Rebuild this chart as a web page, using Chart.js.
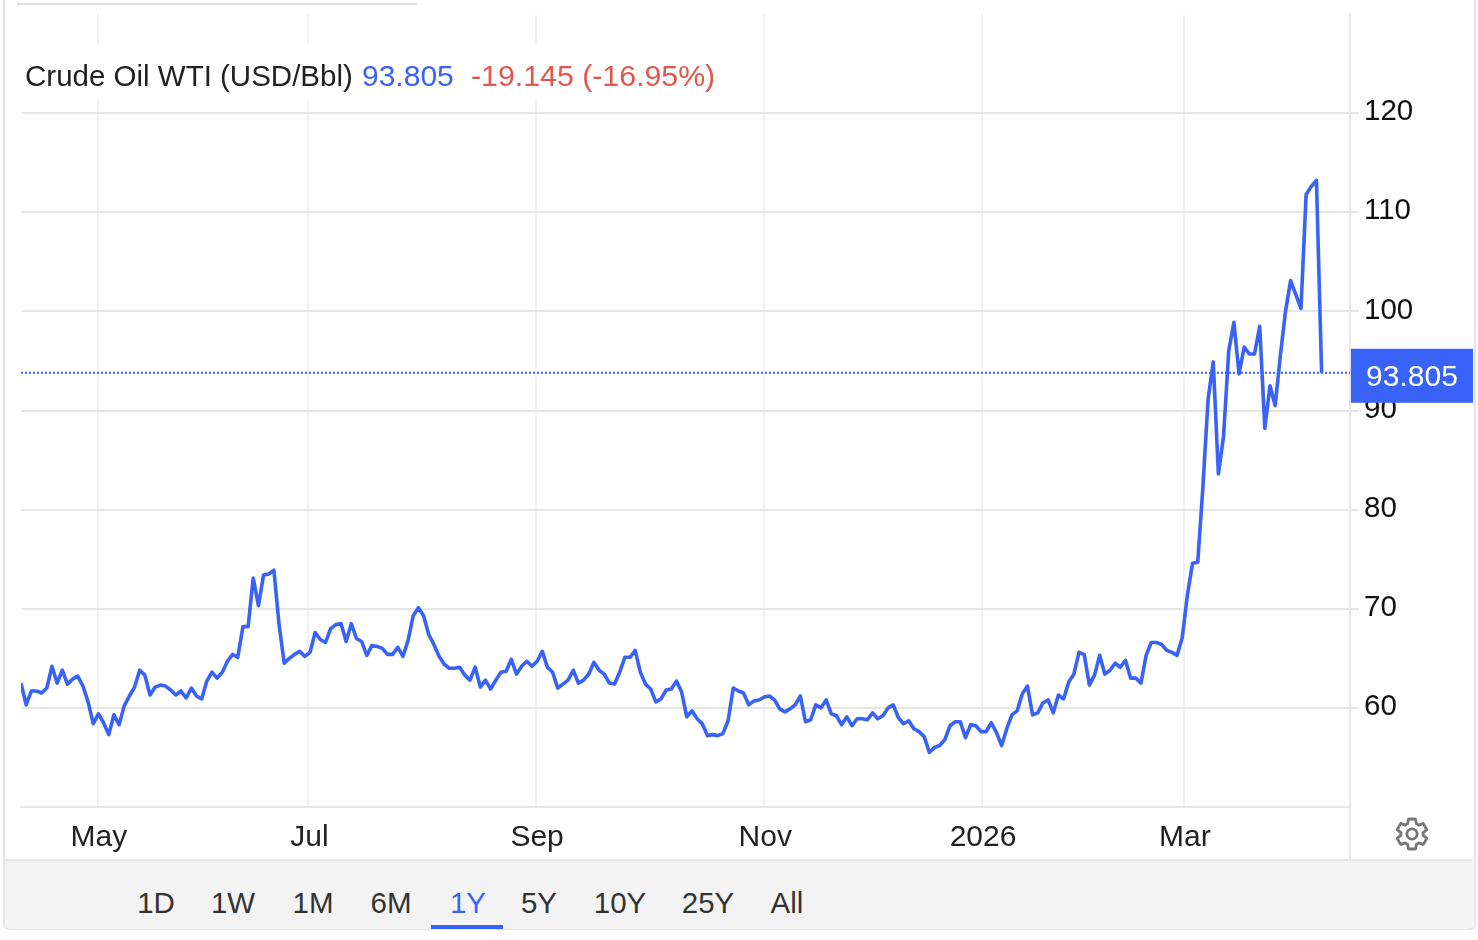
<!DOCTYPE html>
<html>
<head>
<meta charset="utf-8">
<title>Crude Oil WTI</title>
<script src="https://cdn.jsdelivr.net/npm/chart.js@4"></script>
<style>
    html, body { margin: 0; padding: 0; background: #fff; }
    body { width: 1478px; height: 940px; position: relative; overflow: hidden; font-family: "Liberation Sans", sans-serif; }
    #frame { position: absolute; left: 3px; top: 0; width: 1469px; height: 928px; border: 2px solid #e5e5e9; border-top: none; border-radius: 0 0 6px 6px; }
    #topline { position: absolute; left: 17px; top: 3px; width: 400px; height: 2px; background: #e0e0e0; }
    #lineChart { position: absolute; left: 0; top: 0; }
    #title { position: absolute; left: 24px; top: 44px; width: 696px; height: 55px; background: #fff; font-size: 29.5px; line-height: 63px; color: #222; white-space: pre; }
    #title span { position: absolute; top: 0; }
    #bar { position: absolute; left: 5px; top: 859px; width: 1468px; height: 70px; background: #f3f3f4; border-top: 2px solid #e5e5e9; box-sizing: border-box; border-radius: 0 0 5px 5px; }
    .range { position: absolute; top: 883px; font-size: 29.5px; line-height: 40px; color: #333; transform: translateX(-50%); }
    .range.active { color: #3862f8; }
    #underline { position: absolute; left: 431px; top: 925px; width: 72px; height: 4px; background: #3862f8; }
    #gear { position: absolute; left: 1394px; top: 816px; }
</style>
</head>
<body>
<div id="frame"></div>
<div id="topline"></div>
<div id="bar"></div>
<canvas id="lineChart" width="1478" height="860"></canvas>
<div id="title"><span style="left:1px">Crude Oil WTI (USD/Bbl)</span><span style="left:338px;color:#3862f8;font-size:30px">93.805</span><span style="left:447px;color:#e2574c;font-size:30.3px">-19.145 (-16.95%)</span></div>
<div id="underline"></div>
<svg id="gear" width="36" height="36" viewBox="0 0 24 24" fill="none" stroke="#777" stroke-width="1.9">
    <path d="M19.43 12.98c.04-.32.07-.64.07-.98 0-.34-.03-.66-.07-.98l2.11-1.65c.19-.15.24-.42.12-.64l-2-3.46c-.09-.16-.26-.25-.44-.25-.06 0-.12.01-.17.03l-2.49 1c-.52-.4-1.08-.73-1.69-.98l-.38-2.65C14.46 2.18 14.25 2 14 2h-4c-.25 0-.46.18-.49.42l-.38 2.65c-.61.25-1.17.59-1.69.98l-2.49-1c-.06-.02-.12-.03-.18-.03-.17 0-.34.09-.43.25l-2 3.46c-.13.22-.07.49.12.64l2.11 1.65c-.04.32-.07.65-.07.98 0 .33.03.66.07.98l-2.11 1.65c-.19.15-.24.42-.12.64l2 3.46c.09.16.26.25.44.25.06 0 .12-.01.17-.03l2.49-1c.52.4 1.08.73 1.69.98l.38 2.65c.03.24.24.42.49.42h4c.25 0 .46-.18.49-.42l.38-2.65c.61-.25 1.17-.59 1.69-.98l2.49 1c.06.02.12.03.18.03.17 0 .34-.09.43-.25l2-3.46c.12-.22.07-.49-.12-.64l-2.11-1.65z"/>
    <circle cx="12" cy="12" r="3.4"/>
</svg>
<script>
// daily closes, one value per session
const prices = [
    62.5, 60.3, 61.7, 61.7, 61.5, 62.0, 64.2, 62.5, 63.8, 62.4,
    62.9, 63.2, 62.2, 60.6, 58.4, 59.4, 58.5, 57.3, 59.3, 58.3,
    60.2, 61.2, 62.1, 63.8, 63.3, 61.3, 62.1, 62.3, 62.2, 61.8,
    61.3, 61.7, 61.0, 62.0, 61.2, 60.9, 62.7, 63.6, 63.0, 63.6,
    64.7, 65.4, 65.1, 68.2, 68.2, 73.1, 70.3, 73.4, 73.5, 73.9,
    68.4, 64.5, 65.0, 65.4, 65.7, 65.2, 65.6, 67.6, 66.9, 66.6,
    68.0, 68.4, 68.5, 66.7, 68.5, 67.0, 66.7, 65.3, 66.3, 66.2,
    66.0, 65.4, 65.4, 66.1, 65.2, 66.8, 69.3, 70.1, 69.3, 67.4,
    66.4, 65.2, 64.4, 64.0, 64.0, 64.1, 63.3, 62.8, 64.1, 62.1,
    62.8, 61.9, 62.8, 63.6, 63.7, 64.9, 63.4, 64.2, 64.7, 64.2,
    64.7, 65.7, 64.1, 63.6, 62.0, 62.4, 62.8, 63.8, 62.5, 62.8,
    63.4, 64.6, 63.8, 63.4, 62.5, 62.4, 63.6, 65.1, 65.1, 65.8,
    63.6, 62.4, 61.9, 60.6, 60.9, 61.8, 61.9, 62.7, 61.6, 59.1,
    59.7, 58.9, 58.4, 57.2, 57.3, 57.2, 57.4, 58.7, 62.0, 61.7,
    61.5, 60.3, 60.7, 60.8, 61.1, 61.2, 60.8, 59.9, 59.6, 59.9,
    60.3, 61.2, 58.6, 58.8, 60.3, 60.0, 60.8, 59.4, 59.2, 58.3,
    59.1, 58.2, 58.9, 58.9, 58.8, 59.5, 58.9, 59.2, 60.0, 60.3,
    59.0, 58.4, 58.7, 57.9, 57.6, 57.1, 55.5, 56.0, 56.2, 56.8,
    58.2, 58.6, 58.6, 57.0, 58.3, 58.2, 57.6, 57.6, 58.5, 57.5,
    56.2, 57.9, 59.3, 59.7, 61.4, 62.2, 59.3, 59.5, 60.5, 60.8,
    59.5, 61.3, 60.9, 62.6, 63.4, 65.6, 65.4, 62.3, 63.3, 65.3,
    63.4, 63.8, 64.5, 64.1, 64.8, 63.0, 63.0, 62.5, 65.3, 66.6,
    66.6, 66.4, 65.8, 65.6, 65.3, 67.1, 71.4, 74.6, 74.7, 82.3,
    91.1, 94.9, 83.6, 87.4, 96.0, 98.9, 93.7, 96.4, 95.7, 95.7,
    98.5, 88.2, 92.5, 90.5, 95.5, 100.0, 103.1, 101.7, 100.3, 111.8,
    112.6, 113.2, 93.805
];
const lastPrice = 93.805;

// x axis: month labels and where they sit, counted in sessions
const monthLabels = ['May', 'Jul', 'Sep', 'Nov', '2026', 'Mar'];
const monthPositions = [14.9, 55.7, 99.8, 144, 186.2, 225.3];
const lastSession = 257.5;

// y axis
const priceTicks = [60, 70, 80, 90, 100, 110, 120];
const priceMin = 50;
const priceMax = 130;

// time range buttons under the chart
const rangeLabels = ['1D', '1W', '1M', '6M', '1Y', '5Y', '10Y', '25Y', 'All'];
const rangeCenters = [156, 233, 313, 391, 468, 539, 620, 708, 787];
const activeRange = '1Y';

const blue = '#3862f8';
const gridColor = '#e6e6e6';
const fontFamily = '"Liberation Sans", sans-serif';

rangeLabels.forEach((label, i) => {
    const el = document.createElement('div');
    el.className = label === activeRange ? 'range active' : 'range';
    el.style.left = rangeCenters[i] + 'px';
    el.textContent = label;
    document.body.appendChild(el);
});

// az ar címke és a tengely meghosszabbítása
const priceTagPlugin = {
    id: 'priceTag',
    afterDraw(chart) {
        const ctx = chart.ctx;
        const area = chart.chartArea;
        const y = chart.scales.y.getPixelForValue(lastPrice);
        ctx.save();
        ctx.strokeStyle = gridColor;
        ctx.lineWidth = 2;
        ctx.beginPath();
        ctx.moveTo(area.right, area.bottom);
        ctx.lineTo(area.right, 860);
        ctx.stroke();
        ctx.fillStyle = blue;
        ctx.fillRect(area.right + 1, y - 24, 122, 54);
        ctx.fillStyle = '#fff';
        ctx.font = '30px ' + fontFamily;
        ctx.textAlign = 'center';
        ctx.textBaseline = 'middle';
        ctx.fillText(lastPrice.toFixed(3), area.right + 62, y + 5);
        ctx.restore();
    }
};

const ctx = document.getElementById('lineChart').getContext('2d');
new Chart(ctx, {
    type: 'line',
    data: {
        datasets: [{
            data: prices.map((p, i) => ({ x: i, y: p })),
            borderColor: blue,
            borderWidth: 3.6,
            pointRadius: 0,
            tension: 0,
            borderJoinStyle: 'round',
            fill: false
        }, {
            // pontozott vonal az utolsó árnál
            data: [{ x: 0, y: lastPrice }, { x: lastSession, y: lastPrice }],
            borderColor: blue,
            borderWidth: 2,
            borderDash: [2, 2],
            pointRadius: 0,
            fill: false
        }]
    },
    options: {
        responsive: false,
        animation: false,
        layout: { padding: { left: 21, top: 14, right: 0, bottom: 0 } },
        plugins: { legend: { display: false }, tooltip: { enabled: false } },
        scales: {
            x: {
                type: 'linear',
                min: 0,
                max: lastSession,
                afterBuildTicks: scale => { scale.ticks = monthPositions.map(v => ({ value: v })); },
                afterFit: scale => { scale.height = 53; },
                grid: { color: '#f0f2f7', lineWidth: 2, drawTicks: false },
                border: { color: gridColor, width: 2 },
                ticks: {
                    autoSkip: false,
                    maxRotation: 0,
                    padding: 13,
                    labelOffset: 1,
                    color: '#222',
                    font: { family: fontFamily, size: 30 },
                    callback: (value, index) => monthLabels[index]
                }
            },
            y: {
                position: 'right',
                min: priceMin,
                max: priceMax,
                afterBuildTicks: scale => { scale.ticks = priceTicks.map(v => ({ value: v })); },
                afterFit: scale => { scale.width = 128; scale.paddingTop = 0; scale.paddingBottom = 0; },
                grid: { color: gridColor, lineWidth: 2, tickLength: 9, tickColor: gridColor },
                border: { color: gridColor, width: 2 },
                ticks: {
                    padding: 5,
                    labelOffset: -1,
                    color: '#111',
                    font: { family: fontFamily, size: 29.5 }
                }
            }
        }
    },
    plugins: [priceTagPlugin]
});
</script>
</body>
</html>
